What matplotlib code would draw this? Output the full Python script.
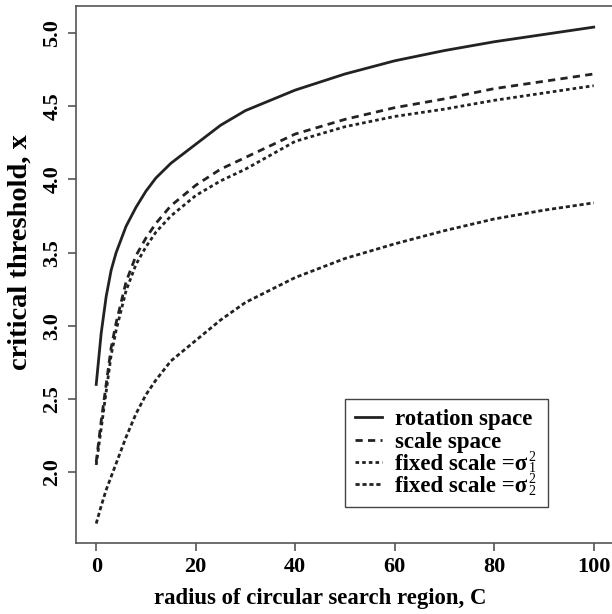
import matplotlib
matplotlib.use("Agg")
from matplotlib import pyplot as plt

# radius of circular search region, C
radius = [0, 1, 2, 3, 4, 6, 8, 10, 12, 15, 20, 25, 30, 40, 50, 60, 70, 80, 90, 100]

rotation_space = [2.60, 2.95, 3.20, 3.38, 3.50, 3.68, 3.81, 3.92, 4.01, 4.11,
                  4.24, 4.37, 4.47, 4.61, 4.72, 4.81, 4.88, 4.94, 4.99, 5.04]
scale_space = [2.07, 2.35, 2.60, 2.85, 3.02, 3.30, 3.48, 3.60, 3.70, 3.82,
               3.96, 4.07, 4.15, 4.31, 4.41, 4.49, 4.55, 4.62, 4.67, 4.72]
fixed_sigma1 = [2.05, 2.30, 2.55, 2.80, 2.97, 3.24, 3.42, 3.54, 3.64, 3.75,
                3.89, 3.99, 4.07, 4.26, 4.36, 4.43, 4.48, 4.54, 4.59, 4.64]
fixed_sigma2 = [1.65, 1.77, 1.88, 1.97, 2.06, 2.24, 2.40, 2.53, 2.63, 2.76,
                2.90, 3.04, 3.16, 3.33, 3.46, 3.56, 3.65, 3.73, 3.79, 3.84]

# legend labels; the sigma ones get their sub/superscripts added afterwards
labels = ["rotation space", "scale space", "fixed scale =\u03c3", "fixed scale =\u03c3"]
sigma_subs = ["1", "2"]
x_ticks = [0, 20, 40, 60, 80, 100]
y_ticks = [2.0, 2.5, 3.0, 3.5, 4.0, 4.5, 5.0]

plt.rcParams["font.family"] = ["Liberation Serif", "DejaVu Serif"]
plt.rcParams["font.weight"] = "bold"

ink = "#222222"
W, H = 612, 614
fig = plt.figure(figsize=(W / 100, H / 100), dpi=100)
ax = fig.add_axes([0.1247, 0.1151, 0.8779, 0.8746])

ax.plot(radius, rotation_space, color=ink, lw=2.0, label=labels[0])
ax.plot(radius, scale_space, color=ink, lw=2.0, dashes=(2.6, 1.9), label=labels[1])
ax.plot(radius, fixed_sigma1, color=ink, lw=2.0, dashes=(1.3, 1.1), label=labels[2])
ax.plot(radius, fixed_sigma2, color=ink, lw=2.0, dashes=(1.5, 1.0), label=labels[3])

ax.set_xlim(-4, 104)
ax.set_ylim(1.515, 5.182)
ax.set_xticks(x_ticks)
ax.set_yticks(y_ticks)
ax.set_xticklabels([str(t) for t in x_ticks], fontsize=16, fontweight="bold")
ax.set_yticklabels(["%.1f" % t for t in y_ticks], fontsize=16, fontweight="bold",
                   rotation=90, va="center")
ax.tick_params(length=6, width=1.2, color="#555555", pad=4)
for s in ax.spines.values():
    s.set_color("#555555")
    s.set_linewidth(1.2)

ax.set_xlabel("radius of circular search region, C", fontsize=16.4, fontweight="bold")
ax.xaxis.set_label_coords(0.4536, -0.083)
ax.set_ylabel("critical threshold, x", fontsize=20.5, fontweight="bold")
ax.yaxis.set_label_coords(-0.0806, 0.542)

leg = ax.legend(loc="upper left", bbox_to_anchor=(345 / W, 1 - 399 / H),
                bbox_transform=fig.transFigure, prop={"size": 16.5, "weight": "bold"},
                handlelength=1.15, handletextpad=0.6, labelspacing=0.05,
                borderpad=0.45, borderaxespad=0, fancybox=False, framealpha=1)
leg.get_frame().set_edgecolor("#444444")
leg.get_frame().set_linewidth(1.0)
leg._legend_box.align = "left"

# widen the frame a little to leave room for the scripts after sigma
fig.canvas.draw()
r = fig.canvas.get_renderer()
for t, sub in zip(leg.get_texts()[2:], sigma_subs):
    bb = t.get_window_extent(r)
    yc = (bb.y0 + bb.y1) / 2
    fig.text((bb.x1 + 1) / W, (yc + 1) / H, "2\n" + sub, fontsize=10,
             fontweight="normal", va="center", ha="left", linespacing=0.85)
fr = leg.get_frame()
fig.canvas.draw()
fb = fr.get_window_extent(r)
leg.set_frame_on(False)
fig.patches.append(plt.Rectangle((fb.x0 / W, fb.y0 / H), (fb.width + 5) / W, fb.height / H,
                                 transform=fig.transFigure, fill=False,
                                 edgecolor="#444444", lw=1.0, zorder=5))

fig.savefig("out.png", dpi=100)
